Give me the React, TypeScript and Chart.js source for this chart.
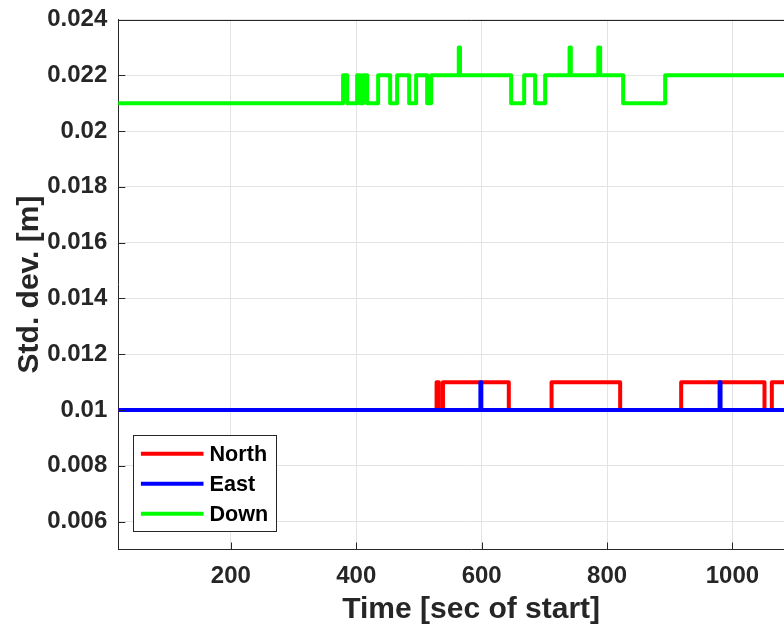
import React, { useEffect, useRef } from "react";
import { Chart, registerables } from "chart.js";

Chart.register(...registerables);

// ---- data ----
const xTicks = [200, 400, 600, 800, 1000];
const yTicks = [0.006, 0.008, 0.01, 0.012, 0.014, 0.016, 0.018, 0.02, 0.022, 0.024];

const northTimes = [20, 528.1, 531.8, 538.3, 643.3, 711.5, 820.9, 918.2, 1051.1, 1062.8, 1150];
const northValues = [0.01, 0.011, 0.01, 0.011, 0.01, 0.011, 0.01, 0.011, 0.01, 0.011, 0.011];

const eastTimes = [20, 598, 599.5, 979.5, 981, 1150];
const eastValues = [0.01, 0.011, 0.01, 0.011, 0.01, 0.01];

const downTimes = [
  20, 379, 385.5, 401.4, 406.2, 411, 417.4, 434.9, 454.1, 465.2, 484.4, 495.5, 513.1, 519.5,
  563.5, 565.5, 647, 667.8, 685.3, 701.3, 740.2, 742.2, 786, 789, 825.7, 892.7, 1150,
];
const downValues = [
  0.021, 0.022, 0.021, 0.022, 0.021, 0.022, 0.021, 0.022, 0.021, 0.022, 0.021, 0.022, 0.021, 0.022,
  0.023, 0.022, 0.021, 0.022, 0.021, 0.022, 0.023, 0.022, 0.023, 0.022, 0.021, 0.022, 0.022,
];

const seriesNames = ["North", "East", "Down"];
const seriesColors = ["#ff0000", "#0000ff", "#00ff00"];

const X_MIN = 20.5;
const X_MAX = 1146;
const Y_MIN = 0.005;
const Y_MAX = 0.024;

const FONT = "'Liberation Sans', Arial, Helvetica, sans-serif";
const AXIS_COLOR = "#262626";

function toPoints(times: number[], values: number[]) {
  return times.map((t, i) => ({ x: t, y: values[i] }));
}

const matlabPlugin = {
  id: "matlabAxes",
  afterDraw(chart: any) {
    const { ctx, chartArea } = chart;
    const { left, right, top, bottom } = chartArea;
    const xs = chart.scales.x;
    const ys = chart.scales.y;
    ctx.save();
    ctx.strokeStyle = AXIS_COLOR;
    ctx.lineWidth = 1;
    ctx.beginPath();
    ctx.moveTo(left, Math.round(top) + 0.5);
    ctx.lineTo(right, Math.round(top) + 0.5);
    yTicks.forEach((v) => {
      const py = Math.round(ys.getPixelForValue(v)) + 0.5;
      ctx.moveTo(left, py);
      ctx.lineTo(left + 7, py);
    });
    xTicks.forEach((v) => {
      const px = Math.round(xs.getPixelForValue(v)) + 0.5;
      ctx.moveTo(px, bottom);
      ctx.lineTo(px, bottom - 7);
    });
    ctx.stroke();

    // legend box (MATLAB style, inside lower-left)
    const bw = 143;
    const bh = 96;
    const bx = Math.round(left + 15) + 0.5;
    const by = Math.round(bottom - 18.5 - bh) + 0.5;
    ctx.fillStyle = "#ffffff";
    ctx.fillRect(bx, by, bw, bh);
    ctx.strokeStyle = AXIS_COLOR;
    ctx.lineWidth = 1;
    ctx.strokeRect(bx, by, bw, bh);
    ctx.font = `bold 21.6px ${FONT}`;
    ctx.textBaseline = "middle";
    ctx.textAlign = "left";
    chart.data.datasets.forEach((ds: any, i: number) => {
      const cy = by + 18.3 + i * 30;
      ctx.strokeStyle = ds.borderColor;
      ctx.lineWidth = 4;
      ctx.beginPath();
      ctx.moveTo(bx + 7.4, cy);
      ctx.lineTo(bx + 70, cy);
      ctx.stroke();
      ctx.fillStyle = "#000000";
      ctx.fillText(ds.label, bx + 76, cy + 1);
    });
    ctx.restore();
  },
};

export default function App() {
  const ref = useRef<HTMLCanvasElement | null>(null);

  useEffect(() => {
    document.documentElement.style.overflow = "hidden";
    document.body.style.overflow = "hidden";
    document.body.style.margin = "0";
    if (!ref.current) return;
    const datasets = [
      toPoints(northTimes, northValues),
      toPoints(eastTimes, eastValues),
      toPoints(downTimes, downValues),
    ].map((pts, i) => ({
      label: seriesNames[i],
      data: pts,
      order: 3 - i,
      borderColor: seriesColors[i],
      backgroundColor: seriesColors[i],
      borderWidth: 4,
      pointRadius: 0,
      stepped: "before" as const,
      fill: false,
      borderJoinStyle: "round" as const,
      borderCapStyle: "round" as const,
    }));

    const chart = new Chart(ref.current, {
      type: "line",
      data: { datasets },
      options: {
        animation: false,
        responsive: false,
        devicePixelRatio: 1,
        layout: { padding: { top: 11.5, left: 0, right: 0, bottom: 0 } },
        plugins: { legend: { display: false }, tooltip: { enabled: false } },
        scales: {
          x: {
            type: "linear",
            min: X_MIN,
            max: X_MAX,
            afterBuildTicks: (s: any) => {
              s.ticks = xTicks.map((v) => ({ value: v }));
            },
            afterFit: (s: any) => {
              s.height = 75.5;
              s.paddingLeft = 0;
              s.paddingRight = 0;
            },
            grid: { color: "#e3e3e3", lineWidth: 1, drawTicks: false },
            border: { display: true, color: AXIS_COLOR, width: 1 },
            ticks: {
              color: AXIS_COLOR,
              font: { family: FONT, size: 24, weight: "bold" },
              padding: 12,
              maxRotation: 0,
              autoSkip: false,
              callback: (v: any) => String(v),
            },
            title: {
              display: true,
              text: "Time [sec of start]",
              color: AXIS_COLOR,
              font: { family: FONT, size: 30, weight: "bold" },
              padding: { top: 0, bottom: -3 },
            },
          },
          y: {
            type: "linear",
            min: Y_MIN,
            max: Y_MAX,
            afterBuildTicks: (s: any) => {
              s.ticks = yTicks.map((v) => ({ value: v }));
            },
            afterFit: (s: any) => {
              s.width = 110.3;
              s.paddingTop = 0;
              s.paddingBottom = 0;
            },
            grid: { color: "#e3e3e3", lineWidth: 1, drawTicks: false },
            border: { display: true, color: AXIS_COLOR, width: 1 },
            ticks: {
              color: AXIS_COLOR,
              font: { family: FONT, size: 24, weight: "bold" },
              padding: 11,
              autoSkip: false,
              callback: (v: any) => String(parseFloat(Number(v).toFixed(3))),
            },
            title: {
              display: true,
              text: "Std. dev. [m]",
              color: AXIS_COLOR,
              font: { family: FONT, size: 30, weight: "bold" },
              padding: { top: 4, bottom: 0 },
            },
          },
        },
      },
      plugins: [matlabPlugin],
    });
    return () => chart.destroy();
  }, []);

  return (
    <div style={{ width: 784, height: 625, overflow: "hidden", background: "#ffffff" }}>
      <div style={{ paddingLeft: 8, paddingTop: 8 }}>
        <canvas ref={ref} width={816} height={617} style={{ display: "block", width: 816, height: 617 }} />
      </div>
    </div>
  );
}
